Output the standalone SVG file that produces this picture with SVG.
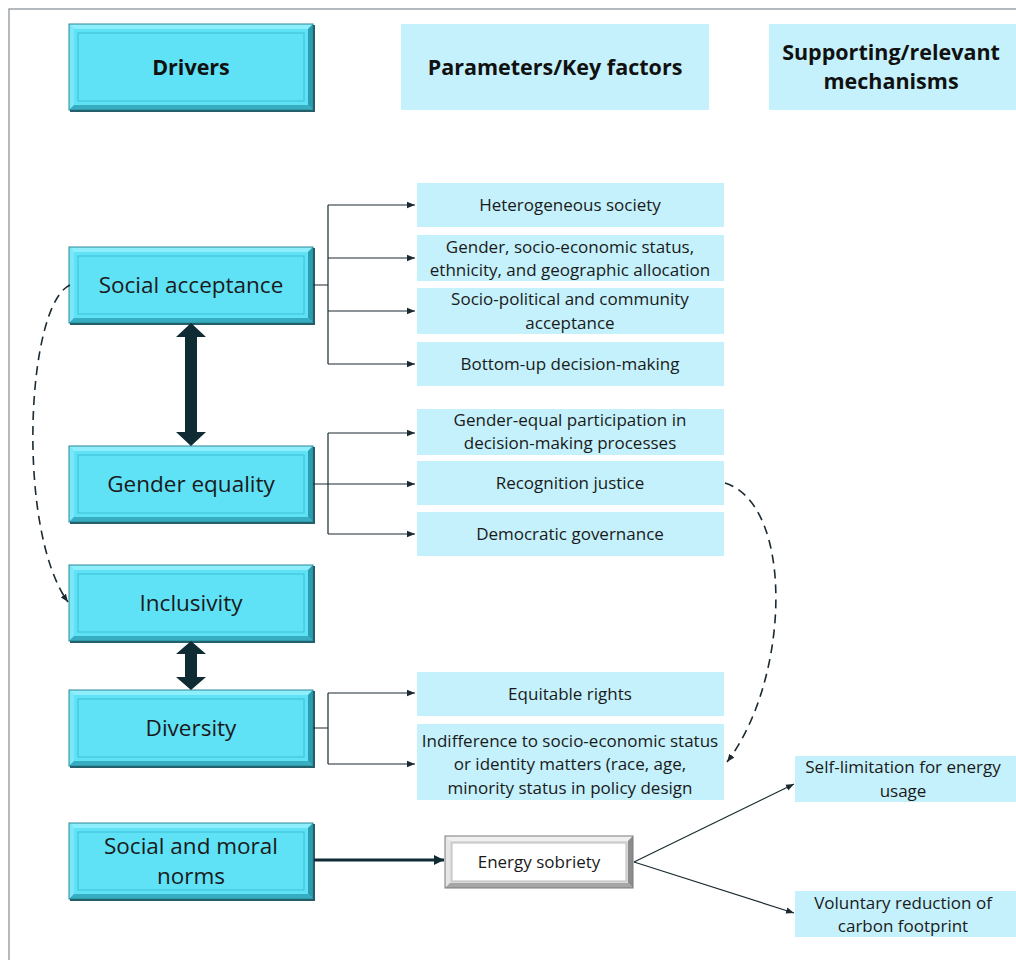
<svg xmlns="http://www.w3.org/2000/svg" xmlns:xlink="http://www.w3.org/1999/xlink" width="1016" height="960" viewBox="0 0 1016 960">
<style>
  text { font-family: "Open Sans", "Liberation Sans", sans-serif; fill: #111; text-anchor: middle; }
  .hdr { font-weight: bold; font-size: 21.5px; }
  .drv { font-size: 22.5px; fill: #1a1a1a; }
  .fac { font-size: 17px; fill: #1a1a1a; }
  .lt { fill: #c4f1fb; }
  .conn { fill: none; stroke: #1a2a30; stroke-width: 1.2; }
  .dash { fill: none; stroke: #1a2a30; stroke-width: 1.6; stroke-dasharray: 9 6; }
  .dbl { fill: #0f2c34; }
</style>
<defs>
  <marker id="ah" viewBox="0 0 10 10" refX="10" refY="5" markerWidth="8" markerHeight="8" markerUnits="userSpaceOnUse" orient="auto">
    <path d="M0,1 L10,5 L0,9 Z" fill="#1a2a30"/>
  </marker>
  <marker id="ahb" viewBox="0 0 10 10" refX="10" refY="5" markerWidth="10" markerHeight="10" markerUnits="userSpaceOnUse" orient="auto">
    <path d="M0,0 L10,5 L0,10 Z" fill="#0f2c34"/>
  </marker>
  <g id="bev76">
    <rect x="0" y="0" width="244" height="76" fill="#5fe1f6"/>
    <polygon points="0,0 244,0 239,5 5,5" fill="#8feefb"/>
    <polygon points="0,0 5,5 5,71 0,76" fill="#7ae8f8"/>
    <polygon points="244,0 244,76 239,71 239,5" fill="#2a9db0"/>
    <polygon points="0,76 244,76 239,71 5,71" fill="#36adc0"/>
    <rect x="9" y="9" width="226" height="58" fill="none" stroke="#3cc0d4" stroke-width="1"/>
    <rect x="0" y="0" width="244" height="76" fill="none" stroke="#2c8898" stroke-width="1"/>
    <polyline points="245,1 245,77 1,77" fill="none" stroke="#24606c" stroke-width="2"/>
  </g>
  <g id="bev86">
    <rect x="0" y="0" width="244" height="86" fill="#5fe1f6"/>
    <polygon points="0,0 244,0 239,5 5,5" fill="#8feefb"/>
    <polygon points="0,0 5,5 5,81 0,86" fill="#7ae8f8"/>
    <polygon points="244,0 244,86 239,81 239,5" fill="#2a9db0"/>
    <polygon points="0,86 244,86 239,81 5,81" fill="#36adc0"/>
    <rect x="9" y="9" width="226" height="68" fill="none" stroke="#3cc0d4" stroke-width="1"/>
    <rect x="0" y="0" width="244" height="86" fill="none" stroke="#2c8898" stroke-width="1"/>
    <polyline points="245,1 245,87 1,87" fill="none" stroke="#24606c" stroke-width="2"/>
  </g>
</defs>

<rect x="0" y="0" width="1016" height="960" fill="#ffffff"/>
<polyline points="9,960 9,9 1016,9" fill="none" stroke="#9aa3a6" stroke-width="1.5"/>

<!-- Headers -->
<g id="hdr-drivers">
  <use xlink:href="#bev86" href="#bev86" transform="translate(69,24)"/>
  <text class="hdr" x="191" y="75">Drivers</text>
</g>
<g id="hdr-params">
  <rect class="lt" x="401" y="24" width="308" height="86"/>
  <text class="hdr" x="555" y="75">Parameters/Key factors</text>
</g>
<g id="hdr-mech">
  <rect class="lt" x="769" y="24" width="247" height="86"/>
  <text class="hdr" x="891" y="60">Supporting/relevant</text>
  <text class="hdr" x="891" y="89">mechanisms</text>
</g>

<!-- Drivers -->
<g id="social-acceptance">
  <use xlink:href="#bev76" href="#bev76" transform="translate(69,247)"/>
  <text class="drv" x="191" y="293">Social acceptance</text>
</g>
<g id="gender-equality">
  <use xlink:href="#bev76" href="#bev76" transform="translate(69,446)"/>
  <text class="drv" x="191" y="492">Gender equality</text>
</g>
<g id="inclusivity">
  <use xlink:href="#bev76" href="#bev76" transform="translate(69,565)"/>
  <text class="drv" x="191" y="611">Inclusivity</text>
</g>
<g id="diversity">
  <use xlink:href="#bev76" href="#bev76" transform="translate(69,690)"/>
  <text class="drv" x="191" y="736">Diversity</text>
</g>
<g id="social-moral-norms">
  <use xlink:href="#bev76" href="#bev76" transform="translate(69,823)"/>
  <text class="drv" x="191" y="854">Social and moral</text>
  <text class="drv" x="191" y="884">norms</text>
</g>

<!-- Factors -->
<g id="f-hetero">
  <rect class="lt" x="417" y="183" width="307" height="44"/>
  <text class="fac" x="570" y="211">Heterogeneous society</text>
</g>
<g id="f-gender-ses">
  <rect class="lt" x="417" y="235" width="307" height="46"/>
  <text class="fac" x="570" y="253">Gender, socio-economic status,</text>
  <text class="fac" x="570" y="276">ethnicity, and geographic allocation</text>
</g>
<g id="f-sociopolitical">
  <rect class="lt" x="417" y="288" width="307" height="46"/>
  <text class="fac" x="570" y="305">Socio-political and community</text>
  <text class="fac" x="570" y="329">acceptance</text>
</g>
<g id="f-bottomup">
  <rect class="lt" x="417" y="342" width="307" height="44"/>
  <text class="fac" x="570" y="370">Bottom-up decision-making</text>
</g>
<g id="f-gender-equal">
  <rect class="lt" x="417" y="409" width="307" height="46"/>
  <text class="fac" x="570" y="426">Gender-equal participation in</text>
  <text class="fac" x="570" y="449">decision-making processes</text>
</g>
<g id="f-recognition">
  <rect class="lt" x="417" y="461" width="307" height="44"/>
  <text class="fac" x="570" y="489">Recognition justice</text>
</g>
<g id="f-democratic">
  <rect class="lt" x="417" y="512" width="307" height="44"/>
  <text class="fac" x="570" y="540">Democratic governance</text>
</g>
<g id="f-equitable">
  <rect class="lt" x="417" y="672" width="307" height="44"/>
  <text class="fac" x="570" y="700">Equitable rights</text>
</g>
<g id="f-indifference">
  <rect class="lt" x="417" y="724" width="307" height="76"/>
  <text class="fac" x="570" y="747">Indifference to socio-economic status</text>
  <text class="fac" x="570" y="770">or identity matters (race, age,</text>
  <text class="fac" x="570" y="794">minority status in policy design</text>
</g>

<!-- Energy sobriety -->
<g id="energy-sobriety">
  <rect x="445" y="836" width="188" height="52" fill="#d9d9d9"/>
  <polygon points="445,836 633,836 628,841 450,841" fill="#f0f0f0"/>
  <polygon points="445,836 450,841 450,883 445,888" fill="#e6e6e6"/>
  <polygon points="633,836 633,888 628,883 628,841" fill="#8c8c8c"/>
  <polygon points="445,888 633,888 628,883 450,883" fill="#a6a6a6"/>
  <rect x="452" y="843" width="174" height="38" fill="#ffffff" stroke="#bdbdbd" stroke-width="1"/>
  <rect x="445" y="836" width="188" height="52" fill="none" stroke="#7a7a7a" stroke-width="1"/>
  <text class="fac" x="539" y="868">Energy sobriety</text>
</g>

<!-- Mechanisms -->
<g id="m-self-limitation">
  <rect class="lt" x="795" y="756" width="221" height="46"/>
  <text class="fac" x="903" y="773">Self-limitation for energy</text>
  <text class="fac" x="903" y="797">usage</text>
</g>
<g id="m-voluntary">
  <rect class="lt" x="795" y="891" width="221" height="46"/>
  <text class="fac" x="903" y="909">Voluntary reduction of</text>
  <text class="fac" x="903" y="932">carbon footprint</text>
</g>

<!-- Connectors -->
<g id="connectors">
  <path class="conn" d="M313,285 H328 M328,205 V364"/>
  <path class="conn" d="M328,205 H415" marker-end="url(#ah)"/>
  <path class="conn" d="M328,258 H415" marker-end="url(#ah)"/>
  <path class="conn" d="M328,311 H415" marker-end="url(#ah)"/>
  <path class="conn" d="M328,364 H415" marker-end="url(#ah)"/>
  <path class="conn" d="M313,484 H328 M328,433 V534"/>
  <path class="conn" d="M328,433 H415" marker-end="url(#ah)"/>
  <path class="conn" d="M328,484 H415" marker-end="url(#ah)"/>
  <path class="conn" d="M328,534 H415" marker-end="url(#ah)"/>
  <path class="conn" d="M313,728 H328 M328,693 V764"/>
  <path class="conn" d="M328,693 H415" marker-end="url(#ah)"/>
  <path class="conn" d="M328,764 H415" marker-end="url(#ah)"/>
  <path d="M314,860 H444" fill="none" stroke="#0f2c34" stroke-width="3" marker-end="url(#ahb)"/>
  <path class="conn" d="M634,862 L794,784" marker-end="url(#ah)"/>
  <path class="conn" d="M634,862 L794,913" marker-end="url(#ah)"/>
  <polygon class="dbl" points="191,323 206,337 197,337 197,432 206,432 191,446 176,432 185,432 185,337 176,337"/>
  <polygon class="dbl" points="191,641 206,654 197,654 197,677 206,677 191,690 176,677 185,677 185,654 176,654"/>
  <path class="dash" d="M70,285 C26,305 16,530 68,602" marker-end="url(#ah)"/>
  <path class="dash" d="M725,483 C795,505 790,680 727,762" marker-end="url(#ah)"/>
</g>
</svg>
